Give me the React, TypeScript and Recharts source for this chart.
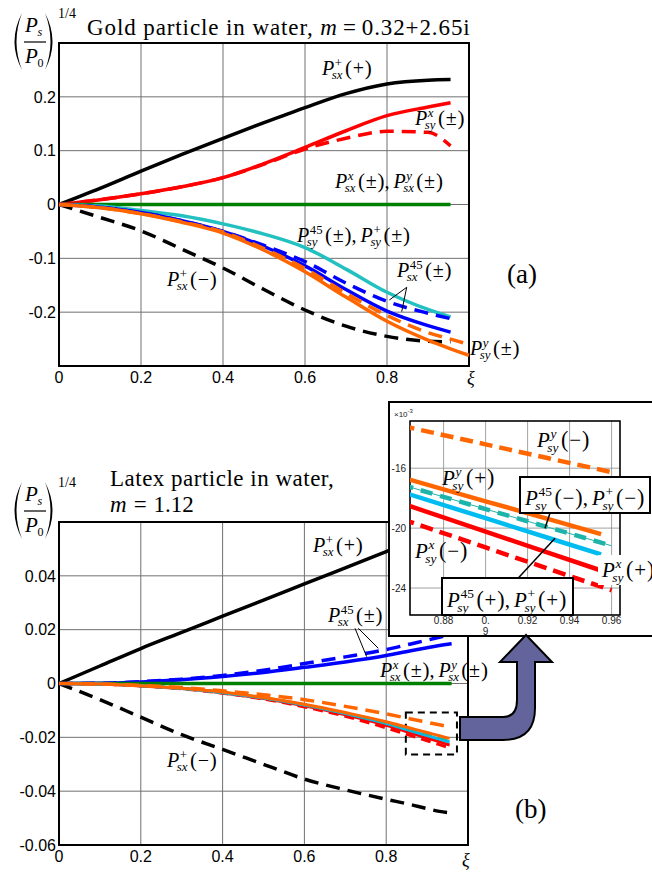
import React from 'react';
import { LineChart, Line, XAxis, YAxis, CartesianGrid, ReferenceArea } from 'recharts';

const SERIF = '"Liberation Serif", "Times New Roman", serif';
const SANS = '"Liberation Sans", Arial, Helvetica, sans-serif';

// ---------- (a) Gold particle ----------
const xiA = [0, 0.1, 0.2, 0.3, 0.4, 0.5, 0.6, 0.7, 0.8, 0.9, 0.955, 1.0];
const aSxPlus = [0, 0.03, 0.062, 0.093, 0.123, 0.152, 0.18, 0.206, 0.224, 0.231, 0.232, null];
const aSxMinus = [0, -0.024, -0.049, -0.083, -0.118, -0.158, -0.196, -0.226, -0.245, -0.254, -0.255, null];
const aSyXSolid = [0, 0.009, 0.02, 0.033, 0.05, 0.076, 0.106, 0.137, 0.165, 0.181, 0.189, null];
const aSyXDashed = [0, 0.009, 0.02, 0.033, 0.05, 0.075, 0.103, 0.123, 0.136, 0.134, 0.109, null];
const aSxXY = [0, 0, 0, 0, 0, 0, 0, 0, 0, 0, 0, null];
const aSy45 = [0, -0.003, -0.011, -0.021, -0.036, -0.055, -0.08, -0.12, -0.163, -0.195, -0.209, null];
const aSx45Solid = [0, -0.005, -0.015, -0.03, -0.05, -0.078, -0.114, -0.158, -0.198, -0.225, -0.237, null];
const aSx45Dashed = [0, -0.005, -0.015, -0.03, -0.05, -0.076, -0.106, -0.146, -0.18, -0.202, -0.212, null];
const aSyYSolid = [0, -0.006, -0.017, -0.033, -0.053, -0.085, -0.125, -0.172, -0.217, -0.252, -0.268, -0.28];
const aSyYDashed = [0, -0.006, -0.017, -0.032, -0.051, -0.082, -0.119, -0.165, -0.206, -0.238, -0.25, -0.26];
const ticksXA = [0, 0.2, 0.4, 0.6, 0.8];
const ticksYA = [-0.2, -0.1, 0, 0.1, 0.2];

// ---------- (b) Latex particle ----------
const xiB = [0, 0.1, 0.2, 0.3, 0.4, 0.5, 0.6, 0.7, 0.8, 0.86, 0.9, 0.93, 0.955, 0.96];
const bSxPlus = [0, 0.0065, 0.013, 0.019, 0.025, 0.031, 0.037, 0.043, 0.049, 0.0525, 0.0545, 0.056, 0.057, null];
const bSxMinus = [0, -0.006, -0.0125, -0.019, -0.0245, -0.03, -0.0355, -0.0395, -0.043, -0.045, -0.0465, -0.0475, -0.048, null];
const bSxXY = [0, 0, 0, 0, 0, 0, 0, 0, 0, 0, 0, 0, 0, 0];
const bSx45Solid = [0, 0.0001, 0.0006, 0.0014, 0.0026, 0.0041, 0.006, 0.008, 0.0104, 0.0122, 0.0133, 0.0141, 0.0147, 0.0148];
const bSx45Dashed = [0, 0.0001, 0.0007, 0.0016, 0.003, 0.0049, 0.0074, 0.0099, 0.0126, 0.0147, 0.0161, 0.0172, 0.0181, null];
const bSyYMinus = [0, -0.0002, -0.0007, -0.0015, -0.0027, -0.0042, -0.006, -0.0085, -0.0113, -0.01317, -0.01441, -0.01534, -0.01611, -0.01627];
const bSyYPlus = [0, -0.0002, -0.0008, -0.0018, -0.0032, -0.0052, -0.0077, -0.0108, -0.0142, -0.01661, -0.01821, -0.0194, -0.0204, null];
const bSy45Minus = [0, -0.0002, -0.0008, -0.0018, -0.0033, -0.0053, -0.0079, -0.011, -0.0146, -0.0171, -0.01873, -0.01995, -0.02097, -0.02118];
const bSy45Plus = [0, -0.0002, -0.0008, -0.0019, -0.0034, -0.0054, -0.008, -0.0112, -0.0149, -0.01758, -0.01934, -0.02066, -0.02175, null];
const bSyXPlus = [0, -0.0002, -0.0009, -0.0019, -0.0035, -0.0056, -0.0083, -0.0116, -0.0155, -0.01835, -0.02023, -0.02165, -0.02283, null];
const bSyXMinus = [0, -0.0002, -0.0009, -0.002, -0.0036, -0.0058, -0.0087, -0.0122, -0.0165, -0.01939, -0.02129, -0.02272, -0.02391, -0.02415];
const ticksXB = [0, 0.2, 0.4, 0.6, 0.8];
const ticksYB = [-0.06, -0.04, -0.02, 0, 0.02, 0.04];

// ---------- inset ----------
const ticksXInset = [0.88, 0.9, 0.92, 0.94, 0.96];
const ticksYInset = [-24, -20, -16];

const C = {
  black: '#000000',
  red: '#ff0000',
  green: '#008000',
  blue: '#0000ff',
  cyanA: '#22c0c0',
  teal: '#1eb4aa',
  sky: '#00bcf0',
  orange: '#ff6600',
};

const CW: Record<string, number> = { s: 0.389, x: 0.444, y: 0.444, '4': 0.5, '5': 0.5, '+': 0.564, '±': 0.549, '−': 0.564 };
const tw = (s: string) => Array.from(s).reduce((a, c) => a + (CW[c] ?? 0.5), 0);

type Term = { sup: string; sub: string; arg: string };

function MathLabel({ x, y, terms, fs = 20 }: { x: number; y: number; terms: Term[]; fs?: number }) {
  const els: React.ReactNode[] = [];
  let cx = x;
  const sfs = fs * 0.64;
  const pfs = fs * 1.05;
  terms.forEach((t, i) => {
    if (i > 0) {
      els.push(<text key={`c${i}`} x={cx} y={y} fontSize={fs}>,</text>);
      cx += 0.45 * fs;
    }
    els.push(<text key={`p${i}`} x={cx} y={y} fontSize={fs} fontStyle="italic">P</text>);
    const pw = 0.611 * fs;
    const supItalic = /[a-z]/.test(t.sup);
    els.push(
      <text key={`sp${i}`} x={cx + pw + 0.03 * fs} y={y - 0.42 * fs} fontSize={sfs} fontStyle={supItalic ? 'italic' : 'normal'}>
        {t.sup}
      </text>
    );
    els.push(
      <text key={`sb${i}`} x={cx + pw - 0.12 * fs} y={y + 0.22 * fs} fontSize={sfs} fontStyle="italic">
        {t.sub}
      </text>
    );
    const sw = Math.max(0.03 * fs + tw(t.sup) * sfs, -0.12 * fs + tw(t.sub) * sfs);
    cx += pw + sw + 0.12 * fs;
    els.push(<text key={`l${i}`} x={cx} y={y} fontSize={pfs}>(</text>);
    cx += 0.333 * pfs + 0.04 * fs;
    els.push(<text key={`a${i}`} x={cx} y={y} fontSize={fs}>{t.arg}</text>);
    cx += tw(t.arg) * fs + 0.04 * fs;
    els.push(<text key={`r${i}`} x={cx} y={y} fontSize={pfs}>)</text>);
    cx += 0.333 * pfs;
  });
  return <g fontFamily={SERIF} fill="#000">{els}</g>;
}

function YLabel({ dy }: { dy: number }) {
  return (
    <g fontFamily={SERIF} fill="#000">
      <path d={`M22,${13 + dy} Q7,${41.5 + dy} 22,${70 + dy} Q11,${41.5 + dy} 22,${13 + dy} Z`} fill="#000" />
      <path d={`M45,${13 + dy} Q60,${41.5 + dy} 45,${70 + dy} Q56,${41.5 + dy} 45,${13 + dy} Z`} fill="#000" />
      <text x={25} y={32 + dy} fontSize={21} fontStyle="italic">P</text>
      <text x={37.5} y={36 + dy} fontSize={12} fontStyle="italic">s</text>
      <line x1={24} x2={46} y1={42 + dy} y2={42 + dy} stroke="#000" strokeWidth={1.2} />
      <text x={25} y={63 + dy} fontSize={21} fontStyle="italic">P</text>
      <text x={37.5} y={67 + dy} fontSize={12}>0</text>
      <text x={58} y={18 + dy} fontSize={14}>1/4</text>
    </g>
  );
}

const tickStyle = { fontSize: 16, fill: '#000', fontFamily: SANS };

const InsetXTick = (props: any) => {
  const { x, y, payload } = props;
  const v = payload.value as number;
  const common = { textAnchor: 'middle' as const, fontSize: 10, fill: '#222', fontFamily: SANS };
  if (Math.abs(v - 0.9) < 1e-6) {
    return (
      <g>
        <text x={x} y={y + 7} {...common}>0.</text>
        <text x={x} y={y + 18} {...common}>9</text>
      </g>
    );
  }
  return <text x={x} y={y + 7} {...common}>{v.toFixed(2)}</text>;
};

export default function App() {
  const dataA = xiA.map((xi, i) => ({
    xi,
    sxPlus: aSxPlus[i],
    sxMinus: aSxMinus[i],
    syXS: aSyXSolid[i],
    syXD: aSyXDashed[i],
    sxXY: aSxXY[i],
    sy45: aSy45[i],
    sx45S: aSx45Solid[i],
    sx45D: aSx45Dashed[i],
    syYS: aSyYSolid[i],
    syYD: aSyYDashed[i],
  }));
  const dataB = xiB.map((xi, i) => ({
    xi,
    sxPlus: bSxPlus[i],
    sxMinus: bSxMinus[i],
    sxXY: bSxXY[i],
    sx45S: bSx45Solid[i],
    sx45D: bSx45Dashed[i],
    syYMinus: bSyYMinus[i],
    syYPlus: bSyYPlus[i],
    sy45Minus: bSy45Minus[i],
    sy45Plus: bSy45Plus[i],
    syXPlus: bSyXPlus[i],
    syXMinus: bSyXMinus[i],
  }));
  const k = (v: number | null) => (v == null ? null : v * 1000);
  const dataInset = dataB
    .filter((r) => r.xi >= 0.85)
    .map((r) => ({
      xi: r.xi,
      syYMinus: k(r.syYMinus),
      syYPlus: k(r.syYPlus),
      sy45Minus: k(r.sy45Minus),
      sy45Plus: k(r.sy45Plus),
      syXPlus: k(r.syXPlus),
      syXMinus: k(r.syXMinus),
    }));

  const W = 3.5;
  const D = '14 8';

  return (
    <div style={{ position: 'absolute', left: 0, top: 0, width: 652, height: 873, overflow: 'hidden', background: '#fff' }}>
      {/* Chart (a) */}
      <div style={{ position: 'absolute', left: 0, top: 0 }}>
        <LineChart width={652} height={400} data={dataA} margin={{ top: 43, right: 183, bottom: 4, left: 0 }}>
          <CartesianGrid stroke="#707070" strokeWidth={1} />
          <XAxis dataKey="xi" type="number" domain={[0, 1]} ticks={ticksXA} tickSize={0} tickMargin={6} axisLine={false} tickLine={false} height={30} tick={tickStyle} />
          <YAxis type="number" domain={[-0.3, 0.3]} ticks={ticksYA} width={59} tickSize={0} tickMargin={3} axisLine={false} tickLine={false} tick={tickStyle} allowDataOverflow />
          <Line dataKey="sxPlus" stroke={C.black} strokeWidth={W} dot={false} type="monotone" isAnimationActive={false} />
          <Line dataKey="sxMinus" stroke={C.black} strokeWidth={W} strokeDasharray={D} dot={false} type="monotone" isAnimationActive={false} />
          <Line dataKey="syXS" stroke={C.red} strokeWidth={W} dot={false} type="monotone" isAnimationActive={false} />
          <Line dataKey="syXD" stroke={C.red} strokeWidth={W} strokeDasharray={D} dot={false} type="monotone" isAnimationActive={false} />
          <Line dataKey="sxXY" stroke={C.green} strokeWidth={W} dot={false} type="monotone" isAnimationActive={false} />
          <Line dataKey="sy45" stroke={C.cyanA} strokeWidth={W} dot={false} type="monotone" isAnimationActive={false} />
          <Line dataKey="sx45S" stroke={C.blue} strokeWidth={W} dot={false} type="monotone" isAnimationActive={false} />
          <Line dataKey="sx45D" stroke={C.blue} strokeWidth={W} strokeDasharray={D} dot={false} type="monotone" isAnimationActive={false} />
          <Line dataKey="syYD" stroke={C.orange} strokeWidth={W} strokeDasharray={D} dot={false} type="monotone" isAnimationActive={false} />
          <Line dataKey="syYS" stroke={C.orange} strokeWidth={W} dot={false} type="monotone" isAnimationActive={false} />
          <ReferenceArea x1={0} x2={1} y1={-0.3} y2={0.3} fill="none" stroke="#000" strokeWidth={2} ifOverflow="visible" />
        </LineChart>
      </div>

      {/* Chart (b) */}
      <div style={{ position: 'absolute', left: 0, top: 0 }}>
        <LineChart width={652} height={873} data={dataB} margin={{ top: 522, right: 184, bottom: 0, left: 0 }}>
          <CartesianGrid stroke="#707070" strokeWidth={1} />
          <XAxis dataKey="xi" type="number" domain={[0, 1]} ticks={ticksXB} tickSize={0} tickMargin={6} axisLine={false} tickLine={false} height={28} tick={tickStyle} />
          <YAxis type="number" domain={[-0.06, 0.06]} ticks={ticksYB} width={59} tickSize={0} tickMargin={3} axisLine={false} tickLine={false} tick={tickStyle} allowDataOverflow />
          <Line dataKey="sxPlus" stroke={C.black} strokeWidth={W} dot={false} type="monotone" isAnimationActive={false} />
          <Line dataKey="sxMinus" stroke={C.black} strokeWidth={W} strokeDasharray={D} dot={false} type="monotone" isAnimationActive={false} />
          <Line dataKey="sx45D" stroke={C.blue} strokeWidth={W} strokeDasharray={D} dot={false} type="monotone" isAnimationActive={false} />
          <Line dataKey="sx45S" stroke={C.blue} strokeWidth={W} dot={false} type="monotone" isAnimationActive={false} />
          <Line dataKey="sxXY" stroke={C.green} strokeWidth={W} dot={false} type="monotone" isAnimationActive={false} />
          <Line dataKey="syXMinus" stroke={C.red} strokeWidth={3} strokeDasharray="10 6" dot={false} type="monotone" isAnimationActive={false} />
          <Line dataKey="syXPlus" stroke={C.red} strokeWidth={3} dot={false} type="monotone" isAnimationActive={false} />
          <Line dataKey="sy45Plus" stroke={C.sky} strokeWidth={3} dot={false} type="monotone" isAnimationActive={false} />
          <Line dataKey="sy45Minus" stroke={C.teal} strokeWidth={3} strokeDasharray="10 6" dot={false} type="monotone" isAnimationActive={false} />
          <Line dataKey="syYPlus" stroke={C.orange} strokeWidth={3} dot={false} type="monotone" isAnimationActive={false} />
          <Line dataKey="syYMinus" stroke={C.orange} strokeWidth={W} strokeDasharray={D} dot={false} type="monotone" isAnimationActive={false} />
          <ReferenceArea x1={0} x2={1} y1={-0.06} y2={0.06} fill="none" stroke="#000" strokeWidth={2} ifOverflow="visible" />
          <ReferenceArea x1={0.848} x2={0.973} y1={-0.0264} y2={-0.0108} fill="none" stroke="#000" strokeWidth={2} strokeDasharray="7 5" ifOverflow="visible" />
        </LineChart>
      </div>

      {/* Annotations for main charts */}
      <svg width={652} height={873} style={{ position: 'absolute', left: 0, top: 0, pointerEvents: 'none' }}>
        <YLabel dy={0} />
        <text x={87} y={35} fontSize={23} letterSpacing={0.9} fontFamily={SERIF}>
          {'Gold particle in water, '}
          <tspan fontStyle="italic">m</tspan>
          <tspan dx={5}>=</tspan>
          <tspan dx={5}>0.32+2.65i</tspan>
        </text>
        <MathLabel x={322} y={75} terms={[{ sup: '+', sub: 'sx', arg: '+' }]} />
        <MathLabel x={415} y={125} terms={[{ sup: 'x', sub: 'sy', arg: '±' }]} />
        <MathLabel x={335} y={188} terms={[{ sup: 'x', sub: 'sx', arg: '±' }, { sup: 'y', sub: 'sx', arg: '±' }]} />
        <MathLabel x={297} y={242} terms={[{ sup: '45', sub: 'sy', arg: '±' }, { sup: '+', sub: 'sy', arg: '±' }]} />
        <MathLabel x={397} y={277} terms={[{ sup: '45', sub: 'sx', arg: '±' }]} />
        <line x1={406.7} y1={287.3} x2={389.3} y2={300} stroke="#000" strokeWidth={1} />
        <line x1={406.7} y1={287.3} x2={401.7} y2={311.7} stroke="#000" strokeWidth={1} />
        <MathLabel x={167} y={286} terms={[{ sup: '+', sub: 'sx', arg: '−' }]} />
        <MathLabel x={470} y={355} terms={[{ sup: 'y', sub: 'sy', arg: '±' }]} />
        <text x={507} y={283} fontSize={27} fontFamily={SERIF}>(a)</text>
        <text x={467} y={384} fontSize={18} fontStyle="italic" fontFamily={SERIF}>ξ</text>

        <YLabel dy={469} />
        <text x={110} y={486} fontSize={23} letterSpacing={0.5} fontFamily={SERIF}>Latex particle in water,</text>
        <text x={110} y={512} fontSize={23} fontFamily={SERIF}>
          <tspan fontStyle="italic">m</tspan>
          <tspan dx={7}>=</tspan>
          <tspan dx={7}>1.12</tspan>
        </text>
        <MathLabel x={313} y={552} terms={[{ sup: '+', sub: 'sx', arg: '+' }]} />
        <MathLabel x={328} y={622} terms={[{ sup: '45', sub: 'sx', arg: '±' }]} />
        <line x1={355} y1={628.3} x2={366.7} y2={656.7} stroke="#000" strokeWidth={1} />
        <line x1={358.3} y1={628.3} x2={378.3} y2={648.3} stroke="#000" strokeWidth={1} />
        <MathLabel x={380} y={677} terms={[{ sup: 'x', sub: 'sx', arg: '±' }, { sup: 'y', sub: 'sx', arg: '±' }]} />
        <MathLabel x={167} y={767} terms={[{ sup: '+', sub: 'sx', arg: '−' }]} />
        <text x={515} y={818} fontSize={27} fontFamily={SERIF}>(b)</text>
        <text x={462} y={866} fontSize={18} fontStyle="italic" fontFamily={SERIF}>ξ</text>
      </svg>

      {/* Inset box */}
      <div style={{ position: 'absolute', left: 388, top: 401, width: 300, height: 236, border: '2px solid #000', background: '#fff', boxSizing: 'border-box' }} />

      {/* Inset chart */}
      <div style={{ position: 'absolute', left: 0, top: 0 }}>
        <LineChart width={652} height={640} data={dataInset} margin={{ top: 421, right: 32, bottom: 5, left: 390 }}>
          <CartesianGrid stroke="#8a8a8a" strokeWidth={0.8} />
          <XAxis dataKey="xi" type="number" domain={[0.864, 0.964]} allowDataOverflow ticks={ticksXInset} tickSize={0} tickMargin={2} axisLine={false} tickLine={false} height={20} tick={<InsetXTick />} />
          <YAxis type="number" domain={[-25.8, -12.85]} allowDataOverflow ticks={ticksYInset} width={20} tickSize={0} tickMargin={4} axisLine={false} tickLine={false} tick={{ fontSize: 10, fill: '#222', fontFamily: SANS }} />
          <Line dataKey="syYMinus" stroke={C.orange} strokeWidth={4.5} strokeDasharray="13 7" dot={false} type="linear" isAnimationActive={false} />
          <Line dataKey="syYPlus" stroke={C.orange} strokeWidth={4.5} dot={false} type="linear" isAnimationActive={false} />
          <Line dataKey="sy45Minus" stroke={C.teal} strokeWidth={4.5} strokeDasharray="12 8" dot={false} type="linear" isAnimationActive={false} />
          <Line dataKey="sy45Minus" stroke={C.teal} strokeWidth={1} dot={false} type="linear" isAnimationActive={false} />
          <Line dataKey="sy45Plus" stroke={C.sky} strokeWidth={4.5} dot={false} type="linear" isAnimationActive={false} />
          <Line dataKey="syXPlus" stroke={C.red} strokeWidth={4.5} dot={false} type="linear" isAnimationActive={false} />
          <Line dataKey="syXMinus" stroke={C.red} strokeWidth={4.5} strokeDasharray="13 7" dot={false} type="linear" isAnimationActive={false} />
          <ReferenceArea x1={0.864} x2={0.964} y1={-25.8} y2={-12.85} fill="none" stroke="#000" strokeWidth={1.5} ifOverflow="visible" />
        </LineChart>
      </div>

      {/* Inset annotations + arrow */}
      <svg width={652} height={873} style={{ position: 'absolute', left: 0, top: 0, pointerEvents: 'none' }}>
        <text x={394} y={417} fontSize={8} fontFamily={SANS} fill="#222">
          ×10
          <tspan fontSize={6} dy={-4}>-3</tspan>
        </text>
        <MathLabel x={537} y={447} fs={21} terms={[{ sup: 'y', sub: 'sy', arg: '−' }]} />
        <MathLabel x={442} y={485} fs={21} terms={[{ sup: 'y', sub: 'sy', arg: '+' }]} />
        <line x1={550} y1={513} x2={545} y2={528.3} stroke="#000" strokeWidth={1.5} />
        <rect x={520} y={477} width={130} height={36} fill="#fff" stroke="#000" strokeWidth={2} />
        <MathLabel x={525} y={505} fs={21} terms={[{ sup: '45', sub: 'sy', arg: '−' }, { sup: '+', sub: 'sy', arg: '−' }]} />
        <MathLabel x={415} y={558} fs={21} terms={[{ sup: 'x', sub: 'sy', arg: '−' }]} />
        <rect x={598} y={555} width={60} height={30} fill="#fff" />
        <MathLabel x={602} y={577} fs={21} terms={[{ sup: 'x', sub: 'sy', arg: '+' }]} />
        <line x1={518.3} y1={578} x2={555} y2={538.3} stroke="#000" strokeWidth={1.5} />
        <rect x={442} y={578} width={131} height={37} fill="#fff" stroke="#000" strokeWidth={2} />
        <MathLabel x={447} y={607} fs={21} terms={[{ sup: '45', sub: 'sy', arg: '+' }, { sup: '+', sub: 'sy', arg: '+' }]} />

        <path
          d="M460,717 L503,717 Q517,717 517,700 L517,662 L500,662 L526,635 L552,662 L535,662 L535,708 Q535,740 503,740 L460,740 Z"
          fill="#64649c"
          stroke="#000"
          strokeWidth={2}
          strokeLinejoin="miter"
        />
      </svg>
    </div>
  );
}
